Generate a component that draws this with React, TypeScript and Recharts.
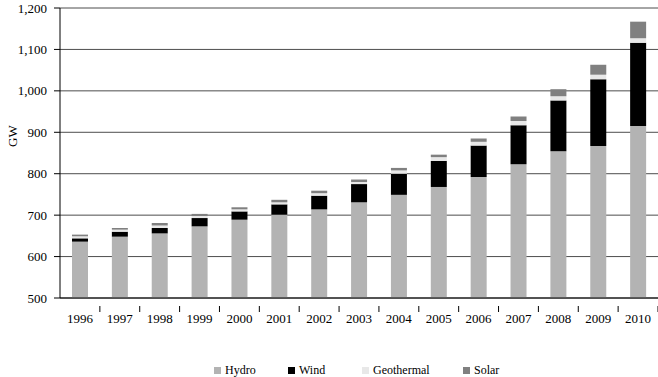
import React from "react";
import { BarChart, Bar, XAxis, YAxis, CartesianGrid, Label } from "recharts";

const years = ["1996", "1997", "1998", "1999", "2000", "2001", "2002", "2003", "2004", "2005", "2006", "2007", "2008", "2009", "2010"];
const hydro = [636, 648, 656, 673, 689, 701, 714, 731, 749, 768, 792, 823, 854, 867, 915];
const wind = [8, 12, 13, 20, 20, 25, 33, 44, 51, 63, 76, 94, 123, 161, 201];
const geothermal = [5, 5, 6, 5, 5, 5, 6, 5, 8, 9, 9, 10, 10, 11, 11];
const solar = [4, 4, 6, 5, 5, 6, 6, 6, 6, 6, 8, 11, 17, 24, 40];
const yTicks = [500, 600, 700, 800, 900, 1000, 1100, 1200];

const series = [
  { key: "hydro", name: "Hydro", color: "#b3b3b3" },
  { key: "wind", name: "Wind", color: "#000000" },
  { key: "geothermal", name: "Geothermal", color: "#e8e8e8" },
  { key: "solar", name: "Solar", color: "#808080" },
];

const data = years.map((year, i) => ({
  year,
  hydro: hydro[i],
  wind: wind[i],
  geothermal: geothermal[i],
  solar: solar[i],
}));

const W = 658;
const H = 377;
const PLOT_LEFT = 60;
const BAND = (W - PLOT_LEFT) / years.length;
const font = "'Liberation Serif', 'Times New Roman', serif";

function YearTick(props: any) {
  const { x, y, payload } = props;
  const right = x + BAND / 2;
  return (
    <g>
      <line x1={right} x2={right} y1={y} y2={y + 6} stroke="#000" />
      <text x={x} y={y + 17} textAnchor="middle" fontFamily={font} fontSize={13} fill="#000">
        {payload.value}
      </text>
    </g>
  );
}

const legendLeft = [214, 288, 362, 463];

export default function App() {
  return (
    <div style={{ position: "absolute", left: 0, top: 0, width: W, height: H, background: "#fff" }}>
      <BarChart
        width={W}
        height={H}
        data={data}
        margin={{ top: 8, right: 0, left: 0, bottom: 49 }}
        barSize={16}
      >
        <CartesianGrid vertical={false} stroke="#4d4d4d" />
        <XAxis
          dataKey="year"
          height={30}
          tickLine={false}
          axisLine={{ stroke: "#000" }}
          tick={<YearTick />}
          interval={0}
        />
        <YAxis
          width={60}
          domain={[500, 1200]}
          ticks={yTicks}
          allowDataOverflow
          tickSize={6}
          tickMargin={7}
          tickLine={{ stroke: "#000" }}
          axisLine={{ stroke: "#000" }}
          tickFormatter={(v: number) => v.toLocaleString("en-US")}
          tick={{ fontFamily: font, fontSize: 13, fill: "#000" }}
        >
          <Label
            value="GW"
            angle={-90}
            position="insideLeft"
            offset={12}
            dy={-6}
            style={{ fontFamily: font, fontSize: 13, fill: "#000" }}
          />
        </YAxis>
        {series.map((s) => (
          <Bar key={s.key} dataKey={s.key} name={s.name} stackId="a" fill={s.color} isAnimationActive={false} />
        ))}
      </BarChart>
      {series.map((s, i) => (
        <div
          key={s.key}
          style={{
            position: "absolute",
            left: legendLeft[i],
            top: 363,
            display: "flex",
            alignItems: "center",
            fontFamily: font,
            fontSize: 12,
            color: "#000",
            whiteSpace: "nowrap",
          }}
        >
          <span style={{ display: "inline-block", width: 7, height: 7, background: s.color, marginRight: 4 }} />
          {s.name}
        </div>
      ))}
    </div>
  );
}
